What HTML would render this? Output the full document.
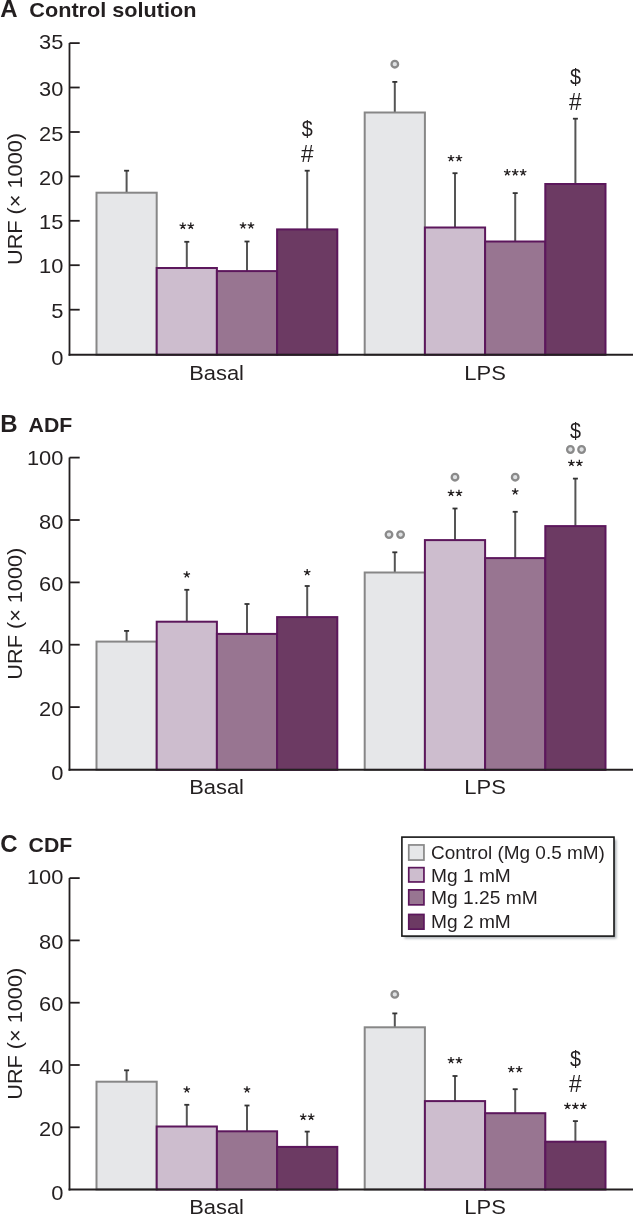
<!DOCTYPE html><html><head><meta charset="utf-8"><style>html,body{margin:0;padding:0;background:#fff;overflow:hidden}svg{display:block;will-change:transform}</style></head><body><svg width="633" height="1215" viewBox="0 0 633 1215" font-family="Liberation Sans">
<rect width="633" height="1215" fill="#ffffff"/>
<text x="0.2" y="17.2" font-size="24" font-weight="bold" text-anchor="start" fill="#231f20">A</text>
<text x="29.3" y="17.2" font-size="21" font-weight="bold" text-anchor="start" fill="#231f20" textLength="167.2" lengthAdjust="spacingAndGlyphs">Control solution</text>
<text x="0" y="0" font-size="20.5" fill="#231f20" text-anchor="middle" textLength="131.9" lengthAdjust="spacingAndGlyphs" transform="translate(21.6 199.0) rotate(-90)">URF (× 1000)</text>
<line x1="126.6" y1="170.7" x2="126.6" y2="192.7" stroke="#555555" stroke-width="2"/>
<line x1="124.1" y1="170.7" x2="129.1" y2="170.7" stroke="#333333" stroke-width="1.8"/>
<rect x="96.5" y="192.7" width="60.2" height="162.1" fill="#e6e7e9" stroke="#878787" stroke-width="2"/>
<line x1="186.8" y1="241.8" x2="186.8" y2="268.0" stroke="#555555" stroke-width="2"/>
<line x1="184.3" y1="241.8" x2="189.3" y2="241.8" stroke="#333333" stroke-width="1.8"/>
<rect x="156.7" y="268.0" width="60.2" height="86.8" fill="#cdbdce" stroke="#5c175c" stroke-width="2"/>
<path d="M182.83 226.00L182.83 222.60M182.83 226.00L179.59 224.95M182.83 226.00L180.83 228.75M182.83 226.00L184.82 228.75M182.83 226.00L186.06 224.95" stroke="#231f20" stroke-width="1.3" stroke-linecap="butt" fill="none"/>
<path d="M190.78 226.00L190.78 222.60M190.78 226.00L187.54 224.95M190.78 226.00L188.78 228.75M190.78 226.00L192.77 228.75M190.78 226.00L194.01 224.95" stroke="#231f20" stroke-width="1.3" stroke-linecap="butt" fill="none"/>
<line x1="247.0" y1="241.5" x2="247.0" y2="271.1" stroke="#555555" stroke-width="2"/>
<line x1="244.5" y1="241.5" x2="249.5" y2="241.5" stroke="#333333" stroke-width="1.8"/>
<rect x="216.9" y="271.1" width="60.2" height="83.7" fill="#987591" stroke="#5c175c" stroke-width="2"/>
<path d="M243.03 225.60L243.03 222.20M243.03 225.60L239.79 224.55M243.03 225.60L241.03 228.35M243.03 225.60L245.02 228.35M243.03 225.60L246.26 224.55" stroke="#231f20" stroke-width="1.3" stroke-linecap="butt" fill="none"/>
<path d="M250.97 225.60L250.97 222.20M250.97 225.60L247.74 224.55M250.97 225.60L248.98 228.35M250.97 225.60L252.97 228.35M250.97 225.60L254.21 224.55" stroke="#231f20" stroke-width="1.3" stroke-linecap="butt" fill="none"/>
<line x1="307.2" y1="170.7" x2="307.2" y2="229.4" stroke="#555555" stroke-width="2"/>
<line x1="304.7" y1="170.7" x2="309.7" y2="170.7" stroke="#333333" stroke-width="1.8"/>
<rect x="277.1" y="229.4" width="60.2" height="125.4" fill="#6c3a63" stroke="#5c175c" stroke-width="2"/>
<text x="307.2" y="161.5" font-size="23" font-weight="normal" text-anchor="middle" fill="#231f20" textLength="12.6" lengthAdjust="spacingAndGlyphs">#</text>
<text x="307.2" y="136" font-size="22" font-weight="normal" text-anchor="middle" fill="#231f20" textLength="11.0" lengthAdjust="spacingAndGlyphs">$</text>
<line x1="394.8" y1="81.9" x2="394.8" y2="112.5" stroke="#555555" stroke-width="2"/>
<line x1="392.3" y1="81.9" x2="397.3" y2="81.9" stroke="#333333" stroke-width="1.8"/>
<rect x="364.7" y="112.5" width="60.2" height="242.3" fill="#e6e7e9" stroke="#878787" stroke-width="2"/>
<circle cx="394.8" cy="64.2" r="3.3" fill="#dfe1e3" stroke="#8a8a8a" stroke-width="2.3"/>
<line x1="455.0" y1="173.2" x2="455.0" y2="227.5" stroke="#555555" stroke-width="2"/>
<line x1="452.5" y1="173.2" x2="457.5" y2="173.2" stroke="#333333" stroke-width="1.8"/>
<rect x="424.9" y="227.5" width="60.2" height="127.3" fill="#cdbdce" stroke="#5c175c" stroke-width="2"/>
<path d="M451.02 158.30L451.02 154.90M451.02 158.30L447.79 157.25M451.02 158.30L449.03 161.05M451.02 158.30L453.02 161.05M451.02 158.30L454.26 157.25" stroke="#231f20" stroke-width="1.3" stroke-linecap="butt" fill="none"/>
<path d="M458.98 158.30L458.98 154.90M458.98 158.30L455.74 157.25M458.98 158.30L456.98 161.05M458.98 158.30L460.97 161.05M458.98 158.30L462.21 157.25" stroke="#231f20" stroke-width="1.3" stroke-linecap="butt" fill="none"/>
<line x1="515.2" y1="193.1" x2="515.2" y2="241.5" stroke="#555555" stroke-width="2"/>
<line x1="512.7" y1="193.1" x2="517.7" y2="193.1" stroke="#333333" stroke-width="1.8"/>
<rect x="485.1" y="241.5" width="60.2" height="113.3" fill="#987591" stroke="#5c175c" stroke-width="2"/>
<path d="M507.25 172.50L507.25 169.10M507.25 172.50L504.02 171.45M507.25 172.50L505.25 175.25M507.25 172.50L509.25 175.25M507.25 172.50L510.48 171.45" stroke="#231f20" stroke-width="1.3" stroke-linecap="butt" fill="none"/>
<path d="M515.20 172.50L515.20 169.10M515.20 172.50L511.97 171.45M515.20 172.50L513.20 175.25M515.20 172.50L517.20 175.25M515.20 172.50L518.43 171.45" stroke="#231f20" stroke-width="1.3" stroke-linecap="butt" fill="none"/>
<path d="M523.15 172.50L523.15 169.10M523.15 172.50L519.92 171.45M523.15 172.50L521.15 175.25M523.15 172.50L525.15 175.25M523.15 172.50L526.38 171.45" stroke="#231f20" stroke-width="1.3" stroke-linecap="butt" fill="none"/>
<line x1="575.4" y1="118.7" x2="575.4" y2="184.0" stroke="#555555" stroke-width="2"/>
<line x1="572.9" y1="118.7" x2="577.9" y2="118.7" stroke="#333333" stroke-width="1.8"/>
<rect x="545.3" y="184.0" width="60.2" height="170.8" fill="#6c3a63" stroke="#5c175c" stroke-width="2"/>
<text x="575.4" y="109.5" font-size="23" font-weight="normal" text-anchor="middle" fill="#231f20" textLength="12.6" lengthAdjust="spacingAndGlyphs">#</text>
<text x="575.4" y="83.5" font-size="22" font-weight="normal" text-anchor="middle" fill="#231f20" textLength="11.0" lengthAdjust="spacingAndGlyphs">$</text>
<line x1="69.5" y1="43.1" x2="69.5" y2="355.8" stroke="#231f20" stroke-width="1.8"/>
<line x1="68.6" y1="354.8" x2="633" y2="354.8" stroke="#231f20" stroke-width="2"/>
<text x="63.4" y="364.7" font-size="21" font-weight="normal" text-anchor="end" fill="#231f20" textLength="12.2" lengthAdjust="spacingAndGlyphs">0</text>
<line x1="69.5" y1="309.7" x2="79.7" y2="309.7" stroke="#231f20" stroke-width="1.8"/>
<text x="63.4" y="317.6" font-size="21" font-weight="normal" text-anchor="end" fill="#231f20" textLength="12.2" lengthAdjust="spacingAndGlyphs">5</text>
<line x1="69.5" y1="265.2" x2="79.7" y2="265.2" stroke="#231f20" stroke-width="1.8"/>
<text x="63.4" y="273.2" font-size="21" font-weight="normal" text-anchor="end" fill="#231f20" textLength="24.3" lengthAdjust="spacingAndGlyphs">10</text>
<line x1="69.5" y1="220.8" x2="79.7" y2="220.8" stroke="#231f20" stroke-width="1.8"/>
<text x="63.4" y="229.0" font-size="21" font-weight="normal" text-anchor="end" fill="#231f20" textLength="24.3" lengthAdjust="spacingAndGlyphs">15</text>
<line x1="69.5" y1="176.4" x2="79.7" y2="176.4" stroke="#231f20" stroke-width="1.8"/>
<text x="63.4" y="184.5" font-size="21" font-weight="normal" text-anchor="end" fill="#231f20" textLength="24.3" lengthAdjust="spacingAndGlyphs">20</text>
<line x1="69.5" y1="132.0" x2="79.7" y2="132.0" stroke="#231f20" stroke-width="1.8"/>
<text x="63.4" y="140.7" font-size="21" font-weight="normal" text-anchor="end" fill="#231f20" textLength="24.3" lengthAdjust="spacingAndGlyphs">25</text>
<line x1="69.5" y1="87.5" x2="79.7" y2="87.5" stroke="#231f20" stroke-width="1.8"/>
<text x="63.4" y="95.9" font-size="21" font-weight="normal" text-anchor="end" fill="#231f20" textLength="24.3" lengthAdjust="spacingAndGlyphs">30</text>
<line x1="69.5" y1="43.1" x2="79.7" y2="43.1" stroke="#231f20" stroke-width="1.8"/>
<text x="63.4" y="49.0" font-size="21" font-weight="normal" text-anchor="end" fill="#231f20" textLength="24.3" lengthAdjust="spacingAndGlyphs">35</text>
<text x="216.6" y="380.3" font-size="20.5" font-weight="normal" text-anchor="middle" fill="#231f20" textLength="54.8" lengthAdjust="spacingAndGlyphs">Basal</text>
<text x="485.1" y="380.3" font-size="20.5" font-weight="normal" text-anchor="middle" fill="#231f20" textLength="41.5" lengthAdjust="spacingAndGlyphs">LPS</text>
<text x="0.2" y="432.3" font-size="24" font-weight="bold" text-anchor="start" fill="#231f20">B</text>
<text x="28.6" y="432.3" font-size="21" font-weight="bold" text-anchor="start" fill="#231f20" textLength="43.7" lengthAdjust="spacingAndGlyphs">ADF</text>
<text x="0" y="0" font-size="20.5" fill="#231f20" text-anchor="middle" textLength="131.9" lengthAdjust="spacingAndGlyphs" transform="translate(21.6 613.7) rotate(-90)">URF (× 1000)</text>
<line x1="126.6" y1="630.9" x2="126.6" y2="641.6" stroke="#555555" stroke-width="2"/>
<line x1="124.1" y1="630.9" x2="129.1" y2="630.9" stroke="#333333" stroke-width="1.8"/>
<rect x="96.5" y="641.6" width="60.2" height="128.2" fill="#e6e7e9" stroke="#878787" stroke-width="2"/>
<line x1="186.8" y1="589.8" x2="186.8" y2="621.7" stroke="#555555" stroke-width="2"/>
<line x1="184.3" y1="589.8" x2="189.3" y2="589.8" stroke="#333333" stroke-width="1.8"/>
<rect x="156.7" y="621.7" width="60.2" height="148.1" fill="#cdbdce" stroke="#5c175c" stroke-width="2"/>
<path d="M186.80 574.60L186.80 571.20M186.80 574.60L183.57 573.55M186.80 574.60L184.80 577.35M186.80 574.60L188.80 577.35M186.80 574.60L190.03 573.55" stroke="#231f20" stroke-width="1.3" stroke-linecap="butt" fill="none"/>
<line x1="247.0" y1="604.0" x2="247.0" y2="633.9" stroke="#555555" stroke-width="2"/>
<line x1="244.5" y1="604.0" x2="249.5" y2="604.0" stroke="#333333" stroke-width="1.8"/>
<rect x="216.9" y="633.9" width="60.2" height="136.0" fill="#987591" stroke="#5c175c" stroke-width="2"/>
<line x1="307.2" y1="586.0" x2="307.2" y2="617.1" stroke="#555555" stroke-width="2"/>
<line x1="304.7" y1="586.0" x2="309.7" y2="586.0" stroke="#333333" stroke-width="1.8"/>
<rect x="277.1" y="617.1" width="60.2" height="152.8" fill="#6c3a63" stroke="#5c175c" stroke-width="2"/>
<path d="M307.20 572.40L307.20 569.00M307.20 572.40L303.97 571.35M307.20 572.40L305.20 575.15M307.20 572.40L309.20 575.15M307.20 572.40L310.43 571.35" stroke="#231f20" stroke-width="1.3" stroke-linecap="butt" fill="none"/>
<line x1="394.8" y1="552.3" x2="394.8" y2="572.5" stroke="#555555" stroke-width="2"/>
<line x1="392.3" y1="552.3" x2="397.3" y2="552.3" stroke="#333333" stroke-width="1.8"/>
<rect x="364.7" y="572.5" width="60.2" height="197.4" fill="#e6e7e9" stroke="#878787" stroke-width="2"/>
<circle cx="389.0" cy="534.6" r="3.3" fill="#dfe1e3" stroke="#8a8a8a" stroke-width="2.3"/>
<circle cx="400.6" cy="534.6" r="3.3" fill="#dfe1e3" stroke="#8a8a8a" stroke-width="2.3"/>
<line x1="455.0" y1="508.5" x2="455.0" y2="540.1" stroke="#555555" stroke-width="2"/>
<line x1="452.5" y1="508.5" x2="457.5" y2="508.5" stroke="#333333" stroke-width="1.8"/>
<rect x="424.9" y="540.1" width="60.2" height="229.8" fill="#cdbdce" stroke="#5c175c" stroke-width="2"/>
<path d="M451.02 493.10L451.02 489.70M451.02 493.10L447.79 492.05M451.02 493.10L449.03 495.85M451.02 493.10L453.02 495.85M451.02 493.10L454.26 492.05" stroke="#231f20" stroke-width="1.3" stroke-linecap="butt" fill="none"/>
<path d="M458.98 493.10L458.98 489.70M458.98 493.10L455.74 492.05M458.98 493.10L456.98 495.85M458.98 493.10L460.97 495.85M458.98 493.10L462.21 492.05" stroke="#231f20" stroke-width="1.3" stroke-linecap="butt" fill="none"/>
<circle cx="455.0" cy="477.2" r="3.3" fill="#dfe1e3" stroke="#8a8a8a" stroke-width="2.3"/>
<line x1="515.2" y1="511.8" x2="515.2" y2="558.1" stroke="#555555" stroke-width="2"/>
<line x1="512.7" y1="511.8" x2="517.7" y2="511.8" stroke="#333333" stroke-width="1.8"/>
<rect x="485.1" y="558.1" width="60.2" height="211.8" fill="#987591" stroke="#5c175c" stroke-width="2"/>
<path d="M515.20 491.60L515.20 488.20M515.20 491.60L511.97 490.55M515.20 491.60L513.20 494.35M515.20 491.60L517.20 494.35M515.20 491.60L518.43 490.55" stroke="#231f20" stroke-width="1.3" stroke-linecap="butt" fill="none"/>
<circle cx="515.2" cy="477.2" r="3.3" fill="#dfe1e3" stroke="#8a8a8a" stroke-width="2.3"/>
<line x1="575.4" y1="478.6" x2="575.4" y2="526.1" stroke="#555555" stroke-width="2"/>
<line x1="572.9" y1="478.6" x2="577.9" y2="478.6" stroke="#333333" stroke-width="1.8"/>
<rect x="545.3" y="526.1" width="60.2" height="243.8" fill="#6c3a63" stroke="#5c175c" stroke-width="2"/>
<path d="M571.42 463.10L571.42 459.70M571.42 463.10L568.19 462.05M571.42 463.10L569.43 465.85M571.42 463.10L573.42 465.85M571.42 463.10L574.66 462.05" stroke="#231f20" stroke-width="1.3" stroke-linecap="butt" fill="none"/>
<path d="M579.38 463.10L579.38 459.70M579.38 463.10L576.14 462.05M579.38 463.10L577.38 465.85M579.38 463.10L581.37 465.85M579.38 463.10L582.61 462.05" stroke="#231f20" stroke-width="1.3" stroke-linecap="butt" fill="none"/>
<circle cx="570.4" cy="449.5" r="3.3" fill="#dfe1e3" stroke="#8a8a8a" stroke-width="2.3"/>
<circle cx="581.6" cy="449.5" r="3.3" fill="#dfe1e3" stroke="#8a8a8a" stroke-width="2.3"/>
<text x="575.4" y="437.5" font-size="22" font-weight="normal" text-anchor="middle" fill="#231f20" textLength="11.0" lengthAdjust="spacingAndGlyphs">$</text>
<line x1="69.5" y1="457.6" x2="69.5" y2="770.85" stroke="#231f20" stroke-width="1.8"/>
<line x1="68.6" y1="769.85" x2="633" y2="769.85" stroke="#231f20" stroke-width="2"/>
<text x="63.4" y="780.0" font-size="21" font-weight="normal" text-anchor="end" fill="#231f20" textLength="12.2" lengthAdjust="spacingAndGlyphs">0</text>
<line x1="69.5" y1="707.1" x2="79.7" y2="707.1" stroke="#231f20" stroke-width="1.8"/>
<text x="63.4" y="715.5" font-size="21" font-weight="normal" text-anchor="end" fill="#231f20" textLength="24.3" lengthAdjust="spacingAndGlyphs">20</text>
<line x1="69.5" y1="644.7" x2="79.7" y2="644.7" stroke="#231f20" stroke-width="1.8"/>
<text x="63.4" y="653.7" font-size="21" font-weight="normal" text-anchor="end" fill="#231f20" textLength="24.3" lengthAdjust="spacingAndGlyphs">40</text>
<line x1="69.5" y1="582.4" x2="79.7" y2="582.4" stroke="#231f20" stroke-width="1.8"/>
<text x="63.4" y="591.3" font-size="21" font-weight="normal" text-anchor="end" fill="#231f20" textLength="24.3" lengthAdjust="spacingAndGlyphs">60</text>
<line x1="69.5" y1="520.0" x2="79.7" y2="520.0" stroke="#231f20" stroke-width="1.8"/>
<text x="63.4" y="528.7" font-size="21" font-weight="normal" text-anchor="end" fill="#231f20" textLength="24.3" lengthAdjust="spacingAndGlyphs">80</text>
<line x1="69.5" y1="457.6" x2="79.7" y2="457.6" stroke="#231f20" stroke-width="1.8"/>
<text x="63.4" y="464.5" font-size="21" font-weight="normal" text-anchor="end" fill="#231f20" textLength="36.5" lengthAdjust="spacingAndGlyphs">100</text>
<text x="216.6" y="794.4" font-size="20.5" font-weight="normal" text-anchor="middle" fill="#231f20" textLength="54.8" lengthAdjust="spacingAndGlyphs">Basal</text>
<text x="485.1" y="794.4" font-size="20.5" font-weight="normal" text-anchor="middle" fill="#231f20" textLength="41.5" lengthAdjust="spacingAndGlyphs">LPS</text>
<text x="0.2" y="851.8" font-size="24" font-weight="bold" text-anchor="start" fill="#231f20">C</text>
<text x="28.6" y="851.8" font-size="21" font-weight="bold" text-anchor="start" fill="#231f20" textLength="43.7" lengthAdjust="spacingAndGlyphs">CDF</text>
<text x="0" y="0" font-size="20.5" fill="#231f20" text-anchor="middle" textLength="131.9" lengthAdjust="spacingAndGlyphs" transform="translate(21.6 1033.8) rotate(-90)">URF (× 1000)</text>
<line x1="126.6" y1="1070.3" x2="126.6" y2="1081.7" stroke="#555555" stroke-width="2"/>
<line x1="124.1" y1="1070.3" x2="129.1" y2="1070.3" stroke="#333333" stroke-width="1.8"/>
<rect x="96.5" y="1081.7" width="60.2" height="107.8" fill="#e6e7e9" stroke="#878787" stroke-width="2"/>
<line x1="186.8" y1="1104.8" x2="186.8" y2="1126.5" stroke="#555555" stroke-width="2"/>
<line x1="184.3" y1="1104.8" x2="189.3" y2="1104.8" stroke="#333333" stroke-width="1.8"/>
<rect x="156.7" y="1126.5" width="60.2" height="63.0" fill="#cdbdce" stroke="#5c175c" stroke-width="2"/>
<path d="M186.80 1089.60L186.80 1086.20M186.80 1089.60L183.57 1088.55M186.80 1089.60L184.80 1092.35M186.80 1089.60L188.80 1092.35M186.80 1089.60L190.03 1088.55" stroke="#231f20" stroke-width="1.3" stroke-linecap="butt" fill="none"/>
<line x1="247.0" y1="1105.5" x2="247.0" y2="1131.3" stroke="#555555" stroke-width="2"/>
<line x1="244.5" y1="1105.5" x2="249.5" y2="1105.5" stroke="#333333" stroke-width="1.8"/>
<rect x="216.9" y="1131.3" width="60.2" height="58.2" fill="#987591" stroke="#5c175c" stroke-width="2"/>
<path d="M247.00 1089.70L247.00 1086.30M247.00 1089.70L243.77 1088.65M247.00 1089.70L245.00 1092.45M247.00 1089.70L249.00 1092.45M247.00 1089.70L250.23 1088.65" stroke="#231f20" stroke-width="1.3" stroke-linecap="butt" fill="none"/>
<line x1="307.2" y1="1131.6" x2="307.2" y2="1146.9" stroke="#555555" stroke-width="2"/>
<line x1="304.7" y1="1131.6" x2="309.7" y2="1131.6" stroke="#333333" stroke-width="1.8"/>
<rect x="277.1" y="1146.9" width="60.2" height="42.6" fill="#6c3a63" stroke="#5c175c" stroke-width="2"/>
<path d="M303.23 1117.00L303.23 1113.60M303.23 1117.00L299.99 1115.95M303.23 1117.00L301.23 1119.75M303.23 1117.00L305.22 1119.75M303.23 1117.00L306.46 1115.95" stroke="#231f20" stroke-width="1.3" stroke-linecap="butt" fill="none"/>
<path d="M311.18 1117.00L311.18 1113.60M311.18 1117.00L307.94 1115.95M311.18 1117.00L309.18 1119.75M311.18 1117.00L313.17 1119.75M311.18 1117.00L314.41 1115.95" stroke="#231f20" stroke-width="1.3" stroke-linecap="butt" fill="none"/>
<line x1="394.8" y1="1013.4" x2="394.8" y2="1027.3" stroke="#555555" stroke-width="2"/>
<line x1="392.3" y1="1013.4" x2="397.3" y2="1013.4" stroke="#333333" stroke-width="1.8"/>
<rect x="364.7" y="1027.3" width="60.2" height="162.2" fill="#e6e7e9" stroke="#878787" stroke-width="2"/>
<circle cx="394.8" cy="994.4" r="3.3" fill="#dfe1e3" stroke="#8a8a8a" stroke-width="2.3"/>
<line x1="455.0" y1="1076.0" x2="455.0" y2="1101.1" stroke="#555555" stroke-width="2"/>
<line x1="452.5" y1="1076.0" x2="457.5" y2="1076.0" stroke="#333333" stroke-width="1.8"/>
<rect x="424.9" y="1101.1" width="60.2" height="88.4" fill="#cdbdce" stroke="#5c175c" stroke-width="2"/>
<path d="M451.02 1060.40L451.02 1057.00M451.02 1060.40L447.79 1059.35M451.02 1060.40L449.03 1063.15M451.02 1060.40L453.02 1063.15M451.02 1060.40L454.26 1059.35" stroke="#231f20" stroke-width="1.3" stroke-linecap="butt" fill="none"/>
<path d="M458.98 1060.40L458.98 1057.00M458.98 1060.40L455.74 1059.35M458.98 1060.40L456.98 1063.15M458.98 1060.40L460.97 1063.15M458.98 1060.40L462.21 1059.35" stroke="#231f20" stroke-width="1.3" stroke-linecap="butt" fill="none"/>
<line x1="515.2" y1="1089.2" x2="515.2" y2="1113.2" stroke="#555555" stroke-width="2"/>
<line x1="512.7" y1="1089.2" x2="517.7" y2="1089.2" stroke="#333333" stroke-width="1.8"/>
<rect x="485.1" y="1113.2" width="60.2" height="76.3" fill="#987591" stroke="#5c175c" stroke-width="2"/>
<path d="M511.23 1069.30L511.23 1065.90M511.23 1069.30L507.99 1068.25M511.23 1069.30L509.23 1072.05M511.23 1069.30L513.22 1072.05M511.23 1069.30L514.46 1068.25" stroke="#231f20" stroke-width="1.3" stroke-linecap="butt" fill="none"/>
<path d="M519.18 1069.30L519.18 1065.90M519.18 1069.30L515.94 1068.25M519.18 1069.30L517.18 1072.05M519.18 1069.30L521.17 1072.05M519.18 1069.30L522.41 1068.25" stroke="#231f20" stroke-width="1.3" stroke-linecap="butt" fill="none"/>
<line x1="575.4" y1="1121.1" x2="575.4" y2="1141.7" stroke="#555555" stroke-width="2"/>
<line x1="572.9" y1="1121.1" x2="577.9" y2="1121.1" stroke="#333333" stroke-width="1.8"/>
<rect x="545.3" y="1141.7" width="60.2" height="47.8" fill="#6c3a63" stroke="#5c175c" stroke-width="2"/>
<path d="M567.45 1106.10L567.45 1102.70M567.45 1106.10L564.22 1105.05M567.45 1106.10L565.45 1108.85M567.45 1106.10L569.45 1108.85M567.45 1106.10L570.68 1105.05" stroke="#231f20" stroke-width="1.3" stroke-linecap="butt" fill="none"/>
<path d="M575.40 1106.10L575.40 1102.70M575.40 1106.10L572.17 1105.05M575.40 1106.10L573.40 1108.85M575.40 1106.10L577.40 1108.85M575.40 1106.10L578.63 1105.05" stroke="#231f20" stroke-width="1.3" stroke-linecap="butt" fill="none"/>
<path d="M583.35 1106.10L583.35 1102.70M583.35 1106.10L580.12 1105.05M583.35 1106.10L581.35 1108.85M583.35 1106.10L585.35 1108.85M583.35 1106.10L586.58 1105.05" stroke="#231f20" stroke-width="1.3" stroke-linecap="butt" fill="none"/>
<text x="575.4" y="1092" font-size="23" font-weight="normal" text-anchor="middle" fill="#231f20" textLength="12.6" lengthAdjust="spacingAndGlyphs">#</text>
<text x="575.4" y="1066" font-size="22" font-weight="normal" text-anchor="middle" fill="#231f20" textLength="11.0" lengthAdjust="spacingAndGlyphs">$</text>
<line x1="69.5" y1="878.1" x2="69.5" y2="1190.5" stroke="#231f20" stroke-width="1.8"/>
<line x1="68.6" y1="1189.5" x2="633" y2="1189.5" stroke="#231f20" stroke-width="2"/>
<text x="63.4" y="1199.8" font-size="21" font-weight="normal" text-anchor="end" fill="#231f20" textLength="12.2" lengthAdjust="spacingAndGlyphs">0</text>
<line x1="69.5" y1="1127.3" x2="79.7" y2="1127.3" stroke="#231f20" stroke-width="1.8"/>
<text x="63.4" y="1136.4" font-size="21" font-weight="normal" text-anchor="end" fill="#231f20" textLength="24.3" lengthAdjust="spacingAndGlyphs">20</text>
<line x1="69.5" y1="1065.0" x2="79.7" y2="1065.0" stroke="#231f20" stroke-width="1.8"/>
<text x="63.4" y="1073.7" font-size="21" font-weight="normal" text-anchor="end" fill="#231f20" textLength="24.3" lengthAdjust="spacingAndGlyphs">40</text>
<line x1="69.5" y1="1002.7" x2="79.7" y2="1002.7" stroke="#231f20" stroke-width="1.8"/>
<text x="63.4" y="1011.3" font-size="21" font-weight="normal" text-anchor="end" fill="#231f20" textLength="24.3" lengthAdjust="spacingAndGlyphs">60</text>
<line x1="69.5" y1="940.4" x2="79.7" y2="940.4" stroke="#231f20" stroke-width="1.8"/>
<text x="63.4" y="948.9" font-size="21" font-weight="normal" text-anchor="end" fill="#231f20" textLength="24.3" lengthAdjust="spacingAndGlyphs">80</text>
<line x1="69.5" y1="878.1" x2="79.7" y2="878.1" stroke="#231f20" stroke-width="1.8"/>
<text x="63.4" y="884.0" font-size="21" font-weight="normal" text-anchor="end" fill="#231f20" textLength="36.5" lengthAdjust="spacingAndGlyphs">100</text>
<text x="216.6" y="1214.4" font-size="20.5" font-weight="normal" text-anchor="middle" fill="#231f20" textLength="54.8" lengthAdjust="spacingAndGlyphs">Basal</text>
<text x="485.1" y="1214.4" font-size="20.5" font-weight="normal" text-anchor="middle" fill="#231f20" textLength="41.5" lengthAdjust="spacingAndGlyphs">LPS</text>
<defs><filter id="sh" x="-10%" y="-10%" width="120%" height="120%"><feGaussianBlur stdDeviation="1"/></filter></defs>
<rect x="404.4" y="839.6" width="212.1" height="99" fill="#aeb3b7" filter="url(#sh)"/>
<rect x="401.9" y="837.1" width="212.1" height="99" fill="#ffffff" stroke="#151515" stroke-width="1.6"/>
<rect x="408.75" y="844.95" width="15.2" height="15.10" fill="#e6e7e9" stroke="#878787" stroke-width="1.7"/>
<text x="431" y="858.9" font-size="18" font-weight="normal" text-anchor="start" fill="#231f20" textLength="173.9" lengthAdjust="spacingAndGlyphs">Control (Mg 0.5 mM)</text>
<rect x="408.75" y="867.65" width="15.2" height="14.30" fill="#cdbdce" stroke="#5c175c" stroke-width="1.7"/>
<text x="431" y="881.9" font-size="18" font-weight="normal" text-anchor="start" fill="#231f20" textLength="79.8" lengthAdjust="spacingAndGlyphs">Mg 1 mM</text>
<rect x="408.75" y="889.85" width="15.2" height="15.00" fill="#987591" stroke="#5c175c" stroke-width="1.7"/>
<text x="431" y="904.4" font-size="18" font-weight="normal" text-anchor="start" fill="#231f20" textLength="106.8" lengthAdjust="spacingAndGlyphs">Mg 1.25 mM</text>
<rect x="408.75" y="914.45" width="15.2" height="14.70" fill="#6c3a63" stroke="#5c175c" stroke-width="1.7"/>
<text x="431" y="927.7" font-size="18" font-weight="normal" text-anchor="start" fill="#231f20" textLength="79.8" lengthAdjust="spacingAndGlyphs">Mg 2 mM</text>
</svg></body></html>
